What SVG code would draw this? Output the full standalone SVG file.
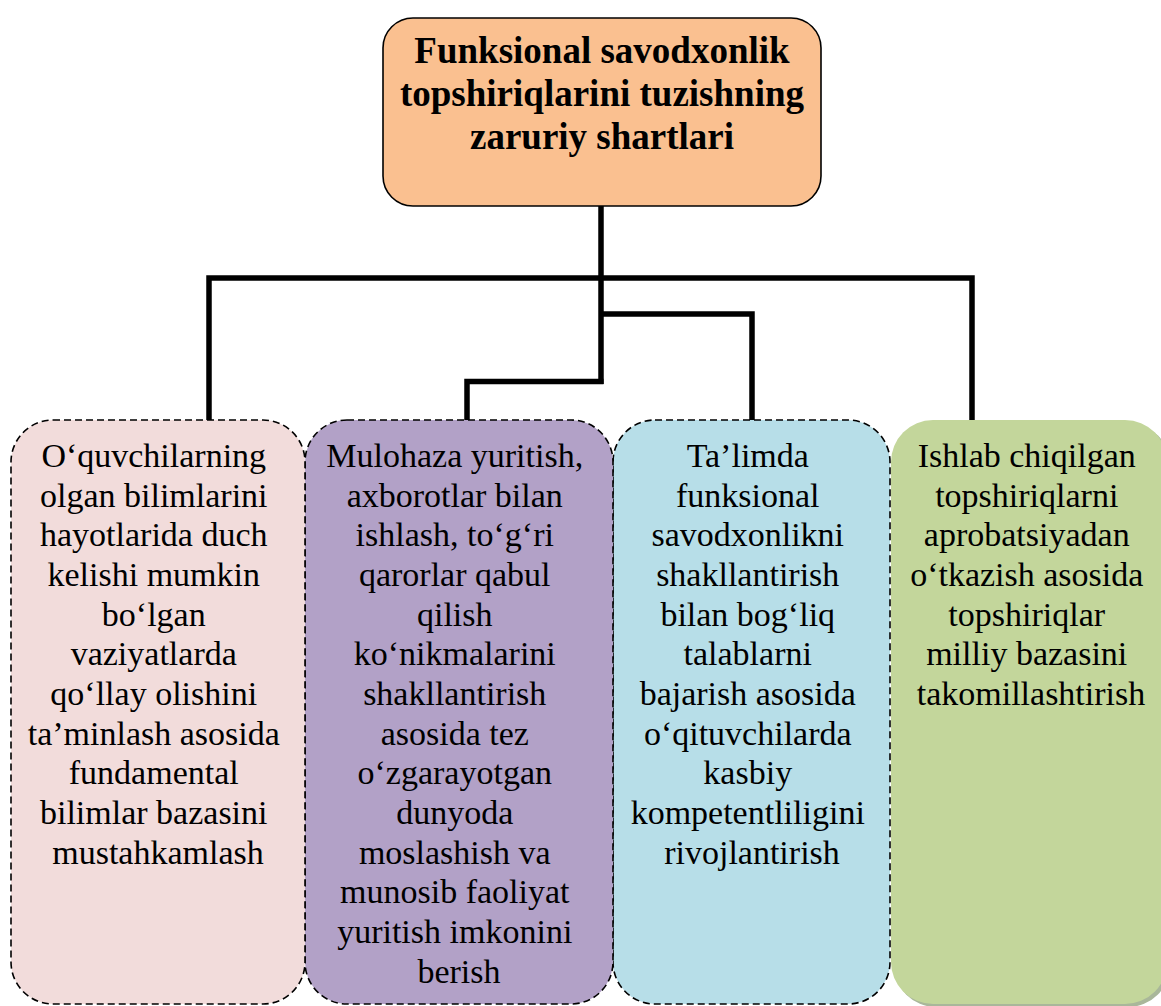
<svg xmlns="http://www.w3.org/2000/svg" width="1161" height="1006" viewBox="0 0 1161 1006">
  <defs>
    <style>
      .hdtxt { font-family: 'Liberation Serif', 'Times New Roman', serif; font-size: 37px; font-weight: bold; fill: #000; text-anchor: middle; }
      .nodetxt { font-family: 'Liberation Serif', 'Times New Roman', serif; font-size: 34px; fill: #000; text-anchor: middle; }
      .dashed { stroke: #000; stroke-width: 1.6; stroke-dasharray: 7 4; }
      .conn { fill: none; stroke: #000; stroke-width: 5.5; stroke-linejoin: miter; stroke-linecap: butt; }
    </style>
  </defs>
  <rect width="1161" height="1006" fill="#ffffff"/>

  <g id="connectors">
    <path class="conn" d="M601,206 V384"/>
    <path class="conn" d="M209,420 V278 H972 V420"/>
    <path class="conn" d="M601,314 H752 V420"/>
    <path class="conn" d="M603.5,381.5 H467 V420"/>
  </g>

  <g id="node-top">
    <rect x="383" y="18" width="438" height="188" rx="30" ry="30" fill="#FAC090" stroke="#000" stroke-width="1.6"/>
    <text class="hdtxt" x="602" y="63">Funksional savodxonlik</text>
    <text class="hdtxt" x="602" y="106">topshiriqlarini tuzishning</text>
    <text class="hdtxt" x="602" y="149">zaruriy shartlari</text>
  </g>

  <g id="node-green">
    <rect x="894" y="423" width="276" height="584" rx="42" ry="42" fill="#A9B79A"/>
    <rect x="891" y="420" width="276" height="584" rx="42" ry="42" fill="#C3D69B"/>
    <text class="nodetxt">
      <tspan x="1031" y="467">Ishlab chiqilgan</tspan>
      <tspan x="1031" y="507">topshiriqlarni</tspan>
      <tspan x="1031" y="546">aprobatsiyadan</tspan>
      <tspan x="1031" y="586">o‘tkazish asosida</tspan>
      <tspan x="1031" y="626">topshiriqlar</tspan>
      <tspan x="1031" y="665">milliy bazasini</tspan>
      <tspan x="1031" y="705">takomillashtirish</tspan>
    </text>
  </g>

  <g id="node-cyan">
    <rect class="dashed" x="613" y="420" width="277" height="584" rx="42" ry="42" fill="#B7DEE8"/>
    <text class="nodetxt">
      <tspan x="752" y="467">Ta’limda</tspan>
      <tspan x="752" y="507">funksional</tspan>
      <tspan x="752" y="546">savodxonlikni</tspan>
      <tspan x="752" y="586">shakllantirish</tspan>
      <tspan x="752" y="626">bilan bog‘liq</tspan>
      <tspan x="752" y="665">talablarni</tspan>
      <tspan x="752" y="705">bajarish asosida</tspan>
      <tspan x="752" y="745">o‘qituvchilarda</tspan>
      <tspan x="752" y="784">kasbiy</tspan>
      <tspan x="752" y="824">kompetentliligini</tspan>
      <tspan x="752" y="864">rivojlantirish</tspan>
    </text>
  </g>

  <g id="node-purple">
    <rect class="dashed" x="305" y="420" width="308" height="584" rx="42" ry="42" fill="#B2A1C7"/>
    <text class="nodetxt">
      <tspan x="459" y="467">Mulohaza yuritish,</tspan>
      <tspan x="459" y="507">axborotlar bilan</tspan>
      <tspan x="459" y="546">ishlash, to‘g‘ri</tspan>
      <tspan x="459" y="586">qarorlar qabul</tspan>
      <tspan x="459" y="626">qilish</tspan>
      <tspan x="459" y="665">ko‘nikmalarini</tspan>
      <tspan x="459" y="705">shakllantirish</tspan>
      <tspan x="459" y="745">asosida tez</tspan>
      <tspan x="459" y="784">o‘zgarayotgan</tspan>
      <tspan x="459" y="824">dunyoda</tspan>
      <tspan x="459" y="864">moslashish va</tspan>
      <tspan x="459" y="903">munosib faoliyat</tspan>
      <tspan x="459" y="943">yuritish imkonini</tspan>
      <tspan x="459" y="983">berish</tspan>
    </text>
  </g>

  <g id="node-pink">
    <rect class="dashed" x="11" y="420" width="294" height="584" rx="42" ry="42" fill="#F2DCDB"/>
    <text class="nodetxt">
      <tspan x="158" y="467">O‘quvchilarning</tspan>
      <tspan x="158" y="507">olgan bilimlarini</tspan>
      <tspan x="158" y="546">hayotlarida duch</tspan>
      <tspan x="158" y="586">kelishi mumkin</tspan>
      <tspan x="158" y="626">bo‘lgan</tspan>
      <tspan x="158" y="665">vaziyatlarda</tspan>
      <tspan x="158" y="705">qo‘llay olishini</tspan>
      <tspan x="158" y="745">ta’minlash asosida</tspan>
      <tspan x="158" y="784">fundamental</tspan>
      <tspan x="158" y="824">bilimlar bazasini</tspan>
      <tspan x="158" y="864">mustahkamlash</tspan>
    </text>
  </g>
</svg>
